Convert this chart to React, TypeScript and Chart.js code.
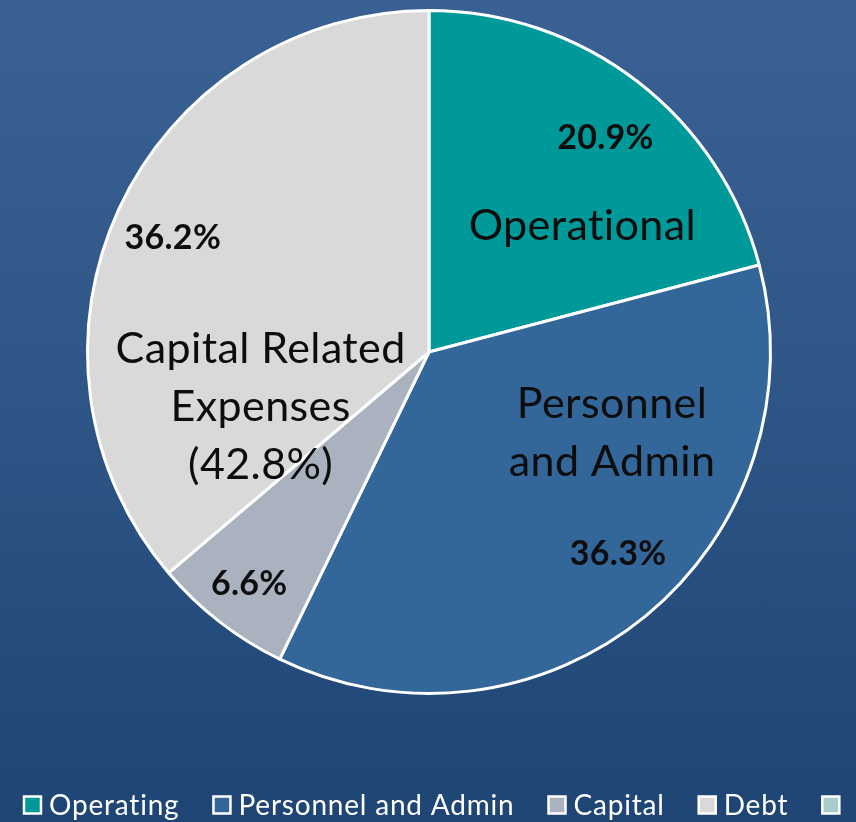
import React, { useEffect, useRef } from "react";
import { Chart, registerables } from "chart.js";

Chart.register(...registerables);

const categories = ["Operating", "Personnel and Admin", "Capital", "Debt"];
const values = [20.9, 36.3, 6.6, 36.2];
const sliceColors = ["#009999", "#336699", "#aab2c0", "#d9d9d9"];
const legendLabels = ["Operating", "Personnel and Admin", "Capital", "Debt", ""];
const legendColors = ["#009999", "#336699", "#aab2c0", "#d9d9d9", "#a8cccb"];
const percentRadius = [0.812, 0.81, 0.859, 0.821];
const percentAngleShift = [1.9, -3.7, 0, -0.9];
const groupTexts = [["Operational"], ["Personnel", "and Admin"], ["Capital Related", "Expenses", "(42.8%)"]];
const groupOffsets = [[0.449, -0.37], [0.536, 0.239], [-0.493, 0.16]];

const FONT = "Lato, 'Noto Sans', sans-serif";

const labelPlugin = {
  id: "labelPlugin",
  afterDatasetsDraw(chart: any) {
    const ctx = chart.ctx;
    const meta = chart.getDatasetMeta(0);
    ctx.save();
    ctx.textAlign = "center";
    ctx.textBaseline = "middle";
    ctx.fillStyle = "#0d0d0d";
    ctx.letterSpacing = "0.3px";
    ctx.font = `bold 34px ${FONT}`;
    meta.data.forEach((arc: any, i: number) => {
      const p = arc.getProps(["x", "y", "startAngle", "endAngle", "outerRadius"], true);
      const mid = (p.startAngle + p.endAngle) / 2 + (percentAngleShift[i] * Math.PI) / 180;
      const r = p.outerRadius * percentRadius[i];
      ctx.fillText(values[i].toFixed(1) + "%", p.x + Math.cos(mid) * r, p.y + Math.sin(mid) * r);
    });
    const a0 = meta.data[0].getProps(["x", "y", "outerRadius"], true);
    ctx.font = `43px ${FONT}`;
    ctx.letterSpacing = "0.4px";
    const lh = 58;
    groupTexts.forEach((lines, g) => {
      const cx = a0.x + groupOffsets[g][0] * a0.outerRadius;
      const cy = a0.y + groupOffsets[g][1] * a0.outerRadius;
      lines.forEach((t, k) => {
        ctx.fillText(t, cx, cy + (k - (lines.length - 1) / 2) * lh);
      });
    });
    ctx.restore();
  },
  afterDraw(chart: any) {
    const ctx = chart.ctx;
    ctx.save();
    ctx.font = `28px ${FONT}`;
    ctx.letterSpacing = "0.8px";
    ctx.textBaseline = "middle";
    ctx.textAlign = "left";
    let x = 24;
    const yc = 805;
    const sq = 17;
    legendLabels.forEach((lab, i) => {
      ctx.fillStyle = legendColors[i];
      ctx.fillRect(x, yc - sq / 2, sq, sq);
      ctx.strokeStyle = "#ffffff";
      ctx.lineWidth = 2.5;
      ctx.strokeRect(x, yc - sq / 2, sq, sq);
      x += sq + 8;
      ctx.fillStyle = "#ffffff";
      ctx.fillText(lab, x, yc + 1);
      x += (lab ? ctx.measureText(lab).width : 0) + 34;
    });
    ctx.restore();
  },
};

export default function App() {
  const ref = useRef<HTMLCanvasElement>(null);
  useEffect(() => {
    document.body.style.margin = "0";
    const chart = new Chart(ref.current!, {
      type: "pie",
      data: {
        labels: categories,
        datasets: [
          {
            data: values,
            backgroundColor: sliceColors,
            borderColor: "#ffffff",
            borderWidth: 3,
          },
        ],
      },
      options: {
        animation: false,
        responsive: false,
        devicePixelRatio: 1,
        layout: { padding: { top: 9, left: 86, right: 84, bottom: 127 } },
        plugins: {
          legend: { display: false },
          tooltip: { enabled: false },
        },
      },
      plugins: [labelPlugin],
    });
    return () => chart.destroy();
  }, []);
  return (
    <div
      style={{
        width: 856,
        height: 822,
        background: "linear-gradient(to bottom, #3a6194 0%, #2d5585 50%, #1e4574 100%)",
      }}
    >
      <canvas ref={ref} width={856} height={822} style={{ display: "block" }} />
    </div>
  );
}
